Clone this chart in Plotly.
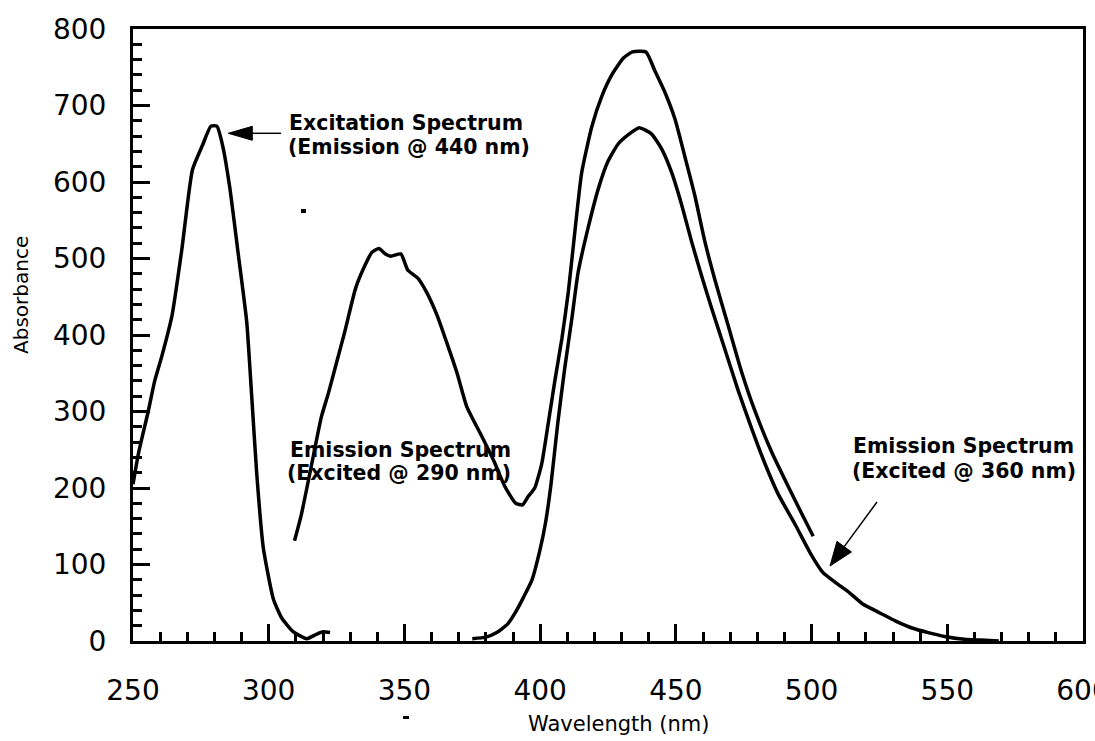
import math
import plotly.graph_objects as go

# ---------------- data ----------------
exc_x = [250, 252, 255.6, 258, 260.6, 264.4, 268, 271.9, 275.6, 278.7, 280.9, 283, 285.6,
         288.7, 291.9, 293.7, 295.6, 298, 301.7, 304.8, 309.1, 314, 317.7, 320, 322.6]
exc_y = [205, 245, 300, 340, 372, 426, 512, 616, 648, 673, 673, 648, 594,
         508, 417, 322, 218, 122, 55, 30, 12, 3, 9, 12, 11]

em290_x = [309.5, 312, 315.6, 319.4, 322, 325, 328, 332, 335.6, 338, 340.6, 343, 345, 348.7,
           351.2, 355, 358, 362, 365.6, 369.4, 373, 378, 383, 387, 391, 393.5, 395.6, 398,
           400.6, 403, 405.5, 408, 410.4, 413, 415.3, 419, 422.7, 426.4, 430.7, 434, 439,
           442.3, 446, 449.7, 453.4, 457, 460.7, 464.4, 469.3, 474.2, 479, 485.3, 491.4,
           496.3, 500.6]
em290_y = [131, 165, 227, 293, 324, 364, 404, 461, 492, 508, 513, 506, 503, 506,
           485, 474, 457, 426, 390, 350, 306, 271, 235, 202, 180, 178, 189, 200,
           232, 285, 342, 395, 457, 542, 612, 672, 712, 740, 762, 770, 770,
           745, 717, 682, 632, 582, 522, 472, 412, 352, 302, 247, 202,
           167, 137]

em360_x = [375, 380, 384, 388, 391, 394, 397, 400, 402, 404, 406.5, 409, 411.7, 414, 417.8,
           421.5, 425, 428.8, 432.5, 436.5, 441, 444.8, 448.5, 452, 455.8, 459.5, 463, 468,
           473, 478, 482.8, 487.7, 494, 500, 504.3, 509, 514, 519, 525, 531, 537, 543, 549,
           557, 564, 569]
em360_y = [3, 5, 11, 22, 38, 58, 80, 120, 155, 205, 285, 355, 422, 482, 542,
           592, 627, 650, 662, 671, 663, 643, 612, 572, 522, 477, 437, 382,
           327, 277, 232, 192, 152, 112, 89, 76, 63, 48, 37, 26, 17, 11, 6,
           2, 1, 0]

x_ticks = [250, 300, 350, 400, 450, 500, 550, 600]
y_ticks = [0, 100, 200, 300, 400, 500, 600, 700, 800]

# ---------------- geometry helpers ----------------
W, H = 1095, 741
L, R, T, B = 133, 1083, 29, 641
X0, X1, Y0, Y1 = 250, 600, 0, 800


def dx(p):
    return X0 + (p - L) * (X1 - X0) / (R - L)


def dy(p):
    return Y0 + (B - p) * (Y1 - Y0) / (B - T)


def paper_x(p):
    return (p - L) / (R - L)


def paper_y(p):
    return (B - p) / (B - T)


FONT = "DejaVu Sans"

fig = go.Figure()
for xs, ys in [(exc_x, exc_y), (em290_x, em290_y), (em360_x, em360_y)]:
    fig.add_trace(go.Scatter(x=xs, y=ys, mode="lines",
                             line=dict(color="black", width=3.5, shape="spline", smoothing=0.5),
                             showlegend=False, hoverinfo="skip"))

annotations = []


def label(text, px, py, anchor):
    annotations.append(dict(x=dx(px), y=dy(py), xref="x", yref="y", text="<b>%s</b>" % text,
                            showarrow=False, xanchor=anchor, yanchor="middle",
                            font=dict(family=FONT, size=20.5, color="black")))


label("Excitation Spectrum", 287, 122.5, "left")
label("(Emission @ 440 nm)", 286, 146.5, "left")
label("Emission Spectrum", 288, 449.5, "left")
label("(Excited @ 290 nm)", 285, 473.3, "left")
label("Emission Spectrum", 1076, 446, "right")
label("(Excited @ 360 nm)", 1078, 470.8, "right")

annotations.append(dict(x=paper_x(21), y=paper_y(295), xref="paper", yref="paper",
                        text="Absorbance", textangle=-90, showarrow=False,
                        xanchor="center", yanchor="middle",
                        font=dict(family=FONT, size=20, color="black")))
annotations.append(dict(x=paper_x(618), y=paper_y(724), xref="paper", yref="paper",
                        text="Wavelength (nm)", showarrow=False,
                        xanchor="center", yanchor="middle",
                        font=dict(family=FONT, size=21, color="black")))

shapes = []


def arrow(tail, tip, head_len, half_w):
    ux, uy = tip[0] - tail[0], tip[1] - tail[1]
    n = math.hypot(ux, uy)
    ux, uy = ux / n, uy / n
    bx, by = tip[0] - head_len * ux, tip[1] - head_len * uy
    px_, py_ = -uy, ux
    c1 = (bx + half_w * px_, by + half_w * py_)
    c2 = (bx - half_w * px_, by - half_w * py_)
    shapes.append(dict(type="line", xref="x", yref="y",
                       x0=dx(tail[0]), y0=dy(tail[1]), x1=dx(bx), y1=dy(by),
                       line=dict(color="black", width=1.5)))
    path = "M %f,%f L %f,%f L %f,%f Z" % (dx(tip[0]), dy(tip[1]), dx(c1[0]), dy(c1[1]),
                                          dx(c2[0]), dy(c2[1]))
    shapes.append(dict(type="path", xref="x", yref="y", path=path,
                       fillcolor="black", line=dict(color="black", width=1)))


arrow((281, 133.3), (228.3, 133.3), 24, 7)
arrow((877, 502), (830, 566), 24, 9)

# small specks present in the scanned original
for (sx, sy, sw, sh) in [(301, 209, 5, 4), (403, 716, 6, 3)]:
    shapes.append(dict(type="rect", xref="paper", yref="paper",
                       x0=paper_x(sx), x1=paper_x(sx + sw),
                       y0=paper_y(sy + sh), y1=paper_y(sy),
                       fillcolor="black", line=dict(width=0)))

axis_common = dict(showline=True, linewidth=3, linecolor="black", mirror=True,
                   showgrid=False, zeroline=False, ticks="inside", ticklen=17,
                   tickwidth=2.5, tickcolor="black", ticklabeloverflow="allow",
                   automargin=False,
                   tickfont=dict(family=FONT, size=28, color="black"))

fig.update_layout(
    width=W, height=H,
    margin=dict(l=L, r=W - R, t=T, b=H - B, pad=0, autoexpand=False),
    paper_bgcolor="white", plot_bgcolor="white",
    xaxis=dict(range=[X0, X1], tickvals=x_ticks, ticklabelstandoff=22,
               minor=dict(dtick=10, ticks="inside", ticklen=9, tickwidth=2.5,
                          tickcolor="black", showgrid=False),
               **axis_common),
    yaxis=dict(range=[Y0, Y1], tickvals=y_ticks, ticklabelstandoff=18,
               minor=dict(dtick=20, ticks="inside", ticklen=9, tickwidth=2.5,
                          tickcolor="black", showgrid=False),
               **axis_common),
    annotations=annotations,
    shapes=shapes,
)

fig.write_html("out.html")
